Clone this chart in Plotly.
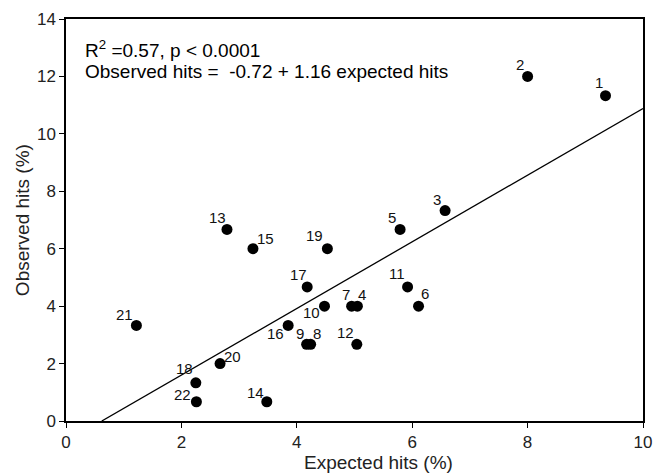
import plotly.graph_objects as go

labels = ["1", "2", "3", "4", "5", "6", "7", "8", "9", "10", "11",
          "12", "13", "14", "15", "16", "17", "18", "19", "20", "21", "22"]
expected = [9.35, 8.00, 6.57, 5.05, 5.79, 6.11, 4.95, 4.24, 4.17, 4.48, 5.92,
            5.04, 2.79, 3.48, 3.24, 3.85, 4.18, 2.25, 4.53, 2.67, 1.22, 2.26]
observed = [11.33, 12.00, 7.33, 4.00, 6.67, 4.00, 4.00, 2.67, 2.67, 4.00, 4.67,
            2.67, 6.67, 0.67, 6.00, 3.33, 4.67, 1.33, 6.00, 2.00, 3.33, 0.67]
# label offsets (pixels) relative to each point: (dx, dy_up)
label_dx = [-7, -8, -8, 5, -8, 6, -6, 6, -7, -13, -11,
            -11, -9, -11, 13, -13, -9, -11, -13, 12, -12, -14]
label_dy = [13, 12, 11, 12, 12, 13, 12, 11, 11, -6, 13,
            12, 12, 9, 10, -8, 12, 14, 13, 7, 11, 7]

intercept = -0.72
slope = 1.16
fit_x = [0.62, 10.0]
fit_y = [intercept + slope * v for v in fit_x]

FONT = "Liberation Sans, Arial, sans-serif"

fig = go.Figure()
fig.add_trace(go.Scatter(x=fit_x, y=fit_y, mode="lines",
                         line=dict(color="black", width=1.3),
                         hoverinfo="skip", showlegend=False, cliponaxis=True))
fig.add_trace(go.Scatter(x=expected, y=observed, mode="markers",
                         marker=dict(color="black", size=11),
                         showlegend=False, cliponaxis=False))

annotations = []
for lab, xv, yv, dx, dy in zip(labels, expected, observed, label_dx, label_dy):
    annotations.append(dict(x=xv, y=yv, text=lab, showarrow=False,
                            xshift=dx, yshift=dy,
                            font=dict(family=FONT, size=15, color="#111")))
annotations.append(dict(x=0.3, y=12.94, xref="x", yref="y", xanchor="left", yanchor="middle",
                        text="R<sup>2</sup> =0.57, p < 0.0001", showarrow=False,
                        font=dict(family=FONT, size=19, color="black")))
annotations.append(dict(x=0.3, y=12.17, xref="x", yref="y", xanchor="left", yanchor="middle",
                        text="Observed hits =  -0.72 + 1.16 expected hits", showarrow=False,
                        font=dict(family=FONT, size=19, color="black")))
# axis titles
annotations.append(dict(x=0.541, y=-0.102, xref="paper", yref="paper",
                        xanchor="center", yanchor="middle", showarrow=False,
                        text="Expected hits (%)",
                        font=dict(family=FONT, size=19, color="#222")))
annotations.append(dict(x=-0.076, y=0.5, xref="paper", yref="paper",
                        xanchor="center", yanchor="middle", showarrow=False,
                        textangle=-90, text="Observed hits (%)",
                        font=dict(family=FONT, size=19, color="#222")))

axis_common = dict(showgrid=False, zeroline=False, showline=True, linecolor="black",
                   linewidth=1.5, mirror=True, ticks="outside", ticklen=5,
                   tickwidth=1.2, tickcolor="black", automargin=False,
                   ticklabeloverflow="allow",
                   tickfont=dict(family=FONT, size=17, color="#222"))

fig.update_layout(
    width=653, height=473,
    margin=dict(l=66, r=10, t=19, b=52),
    paper_bgcolor="white", plot_bgcolor="white",
    annotations=annotations,
    xaxis=dict(range=[0, 10], tickvals=[0, 2, 4, 6, 8, 10], **axis_common),
    yaxis=dict(range=[0, 14], tickvals=[0, 2, 4, 6, 8, 10, 12, 14], **axis_common),
)

fig.write_html("out.html",
               config={"displayModeBar": False},
               post_script="document.body.style.margin='0';document.body.style.overflow='hidden';")
